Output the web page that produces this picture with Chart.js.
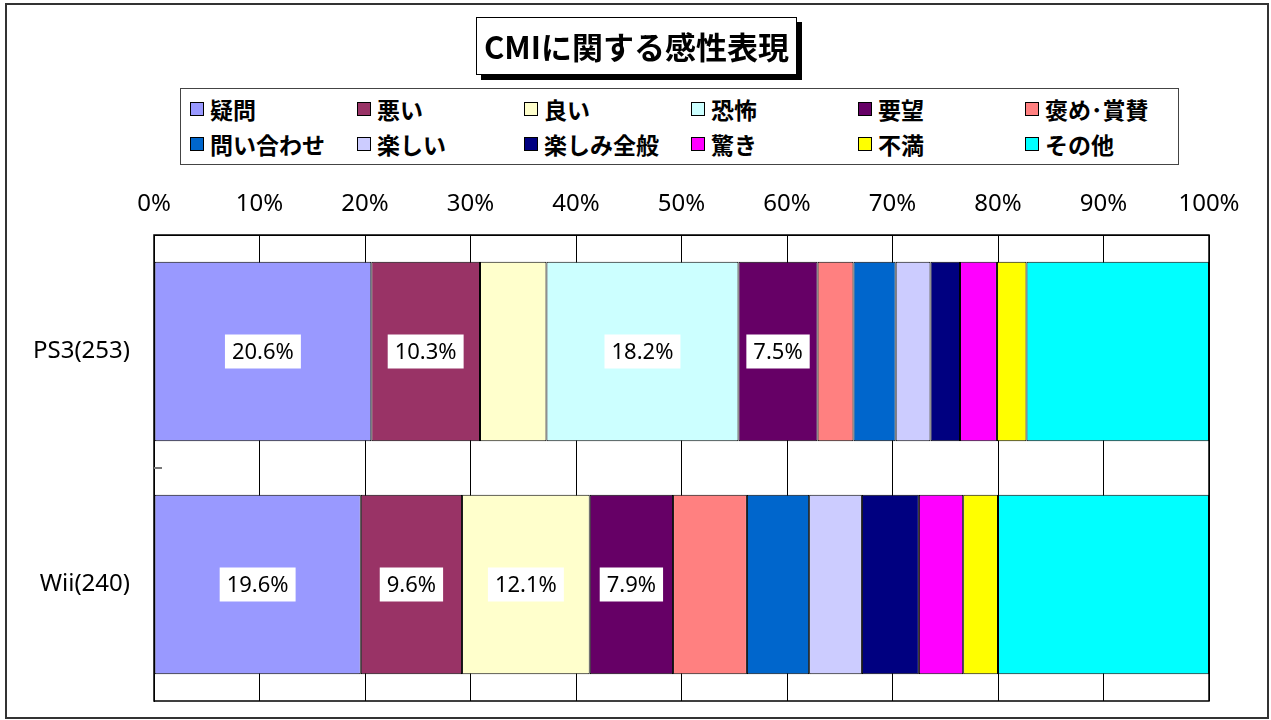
<!DOCTYPE html>
<html>
<head>
<meta charset="utf-8">
<script src="https://cdn.jsdelivr.net/npm/chart.js@4"></script>
<style>
  body { margin: 0; background: #fff; }
  #wrap { position: relative; width: 1271px; height: 720px; }
  #frame { position: absolute; left: 5px; top: 3px; width: 1260px; height: 712px; border: 2px solid #333; box-sizing: content-box; }
  #chart { position: absolute; left: 0; top: 0; }
  #title {
    position: absolute; left: 476px; top: 17px; width: 319px; height: 56px;
    border: 1px solid #000; background: #fff; box-shadow: 5px 5px 0 #000;
    font: bold 31px "Noto Sans CJK JP", sans-serif; text-align: center; line-height: 56px;
  }
  #legend {
    position: absolute; left: 180px; top: 88px; width: 988px; height: 73px;
    border: 1px solid #444; background: #fff; box-sizing: content-box;
    display: grid; grid-template-columns: repeat(6, 167px); grid-auto-rows: 35px;
    padding: 2px 0 0 9px;
  }
  .item { display: flex; align-items: center; font: bold 23px "Noto Sans CJK JP", sans-serif; white-space: nowrap; }
  .box { width: 12px; height: 12px; border: 1px solid #000; margin-right: 6px; flex: none; }
</style>
</head>
<body>
<div id="wrap">
  <div id="frame"></div>
  <canvas id="chart" width="1271" height="720"></canvas>
  <div id="title">CMIに関する感性表現</div>
  <div id="legend"></div>
</div>
<script>
const categories = ['PS3(253)', 'Wii(240)'];
const seriesNames = ['疑問', '悪い', '良い', '恐怖', '要望', '褒め･賞賛',
  '問い合わせ', '楽しい', '楽しみ全般', '驚き', '不満', 'その他'];
const seriesColors = ['#9999FF', '#993366', '#FFFFCC', '#CCFFFF', '#660066', '#FF8080',
  '#0066CC', '#CCCCFF', '#000080', '#FF00FF', '#FFFF00', '#00FFFF'];
// percentages, in series order
const ps3Values = [20.6, 10.3, 6.3, 18.2, 7.5, 3.4, 4.0, 3.3, 2.8, 3.5, 2.8, 17.3];
const wiiValues = [19.6, 9.6, 12.1, 0, 7.9, 7.0, 5.9, 5.0, 5.4, 4.2, 3.3, 20.0];
const labelledSeries = ['疑問', '悪い', '良い', '恐怖', '要望'];
const labelMin = 7;

const plotFrame = {
    id: 'plotFrame',
    afterDatasetsDraw(chart) {
        const { ctx, chartArea: a } = chart;
        ctx.save();
        ctx.strokeStyle = '#000';
        ctx.lineWidth = 1.5;
        ctx.strokeRect(a.left, a.top, a.right - a.left, a.bottom - a.top);
        // small separator mark between the two categories
        const mid = (a.top + a.bottom) / 2;
        ctx.strokeStyle = '#777';
        ctx.lineWidth = 2;
        ctx.beginPath();
        ctx.moveTo(a.left, mid);
        ctx.lineTo(a.left + 8, mid);
        ctx.stroke();
        ctx.restore();
    },
};

const valueLabels = {
    id: 'valueLabels',
    afterDatasetsDraw(chart) {
        const { ctx } = chart;
        ctx.save();
        ctx.font = '22px "Noto Sans", sans-serif';
        ctx.textAlign = 'center';
        ctx.textBaseline = 'middle';
        chart.data.datasets.forEach((ds, i) => {
            if (!labelledSeries.includes(ds.label)) return;
            chart.getDatasetMeta(i).data.forEach((bar, j) => {
                const v = ds.data[j];
                if (v < labelMin) return;
                const txt = v.toFixed(1) + '%';
                const x = (bar.x + bar.base) / 2;
                const w = ctx.measureText(txt).width + 14;
                ctx.fillStyle = '#fff';
                ctx.fillRect(x - w / 2, bar.y - 17, w, 34);
                ctx.fillStyle = '#000';
                ctx.fillText(txt, x, bar.y + 1);
            });
        });
        ctx.restore();
    },
};

const datasets = seriesNames.map((name, i) => ({
    label: name,
    data: [ps3Values[i], wiiValues[i]],
    backgroundColor: seriesColors[i],
    borderColor: '#000',
    borderWidth: 1,
    borderSkipped: false,
    categoryPercentage: 1,
    barPercentage: 0.77,
}));

const chart = new Chart(document.getElementById('chart'), {
    type: 'bar',
    data: { labels: categories, datasets },
    options: {
        indexAxis: 'y',
        responsive: false,
        animation: false,
        layout: { padding: { top: 170, right: 62, bottom: 19, left: 0 } },
        plugins: {
            legend: { display: false },
            tooltip: { enabled: false },
        },
        scales: {
            x: {
                position: 'top',
                stacked: true,
                min: 0,
                max: 100,
                afterFit: (s) => { s.height = 65; },
                grid: { color: '#000', lineWidth: 1, drawTicks: false },
                border: { color: '#000' },
                ticks: {
                    stepSize: 10,
                    padding: 16,
                    color: '#000',
                    font: { family: '"Noto Sans", sans-serif', size: 24 },
                    callback: (v) => v + '%',
                },
            },
            y: {
                stacked: true,
                afterFit: (s) => { s.width = 154; s.paddingTop = 0; s.paddingBottom = 0; },
                grid: { display: false },
                border: { color: '#000' },
                ticks: {
                    padding: 16,
                    color: '#000',
                    font: { family: '"Noto Sans", sans-serif', size: 24 },
                },
            },
        },
    },
    plugins: [plotFrame, valueLabels],
});

const legendEl = document.getElementById('legend');
chart.data.datasets.forEach((ds) => {
    const item = document.createElement('div');
    item.className = 'item';
    item.innerHTML = '<span class="box" style="background:' + ds.backgroundColor + '"></span>' + ds.label;
    legendEl.appendChild(item);
});
</script>
</body>
</html>
